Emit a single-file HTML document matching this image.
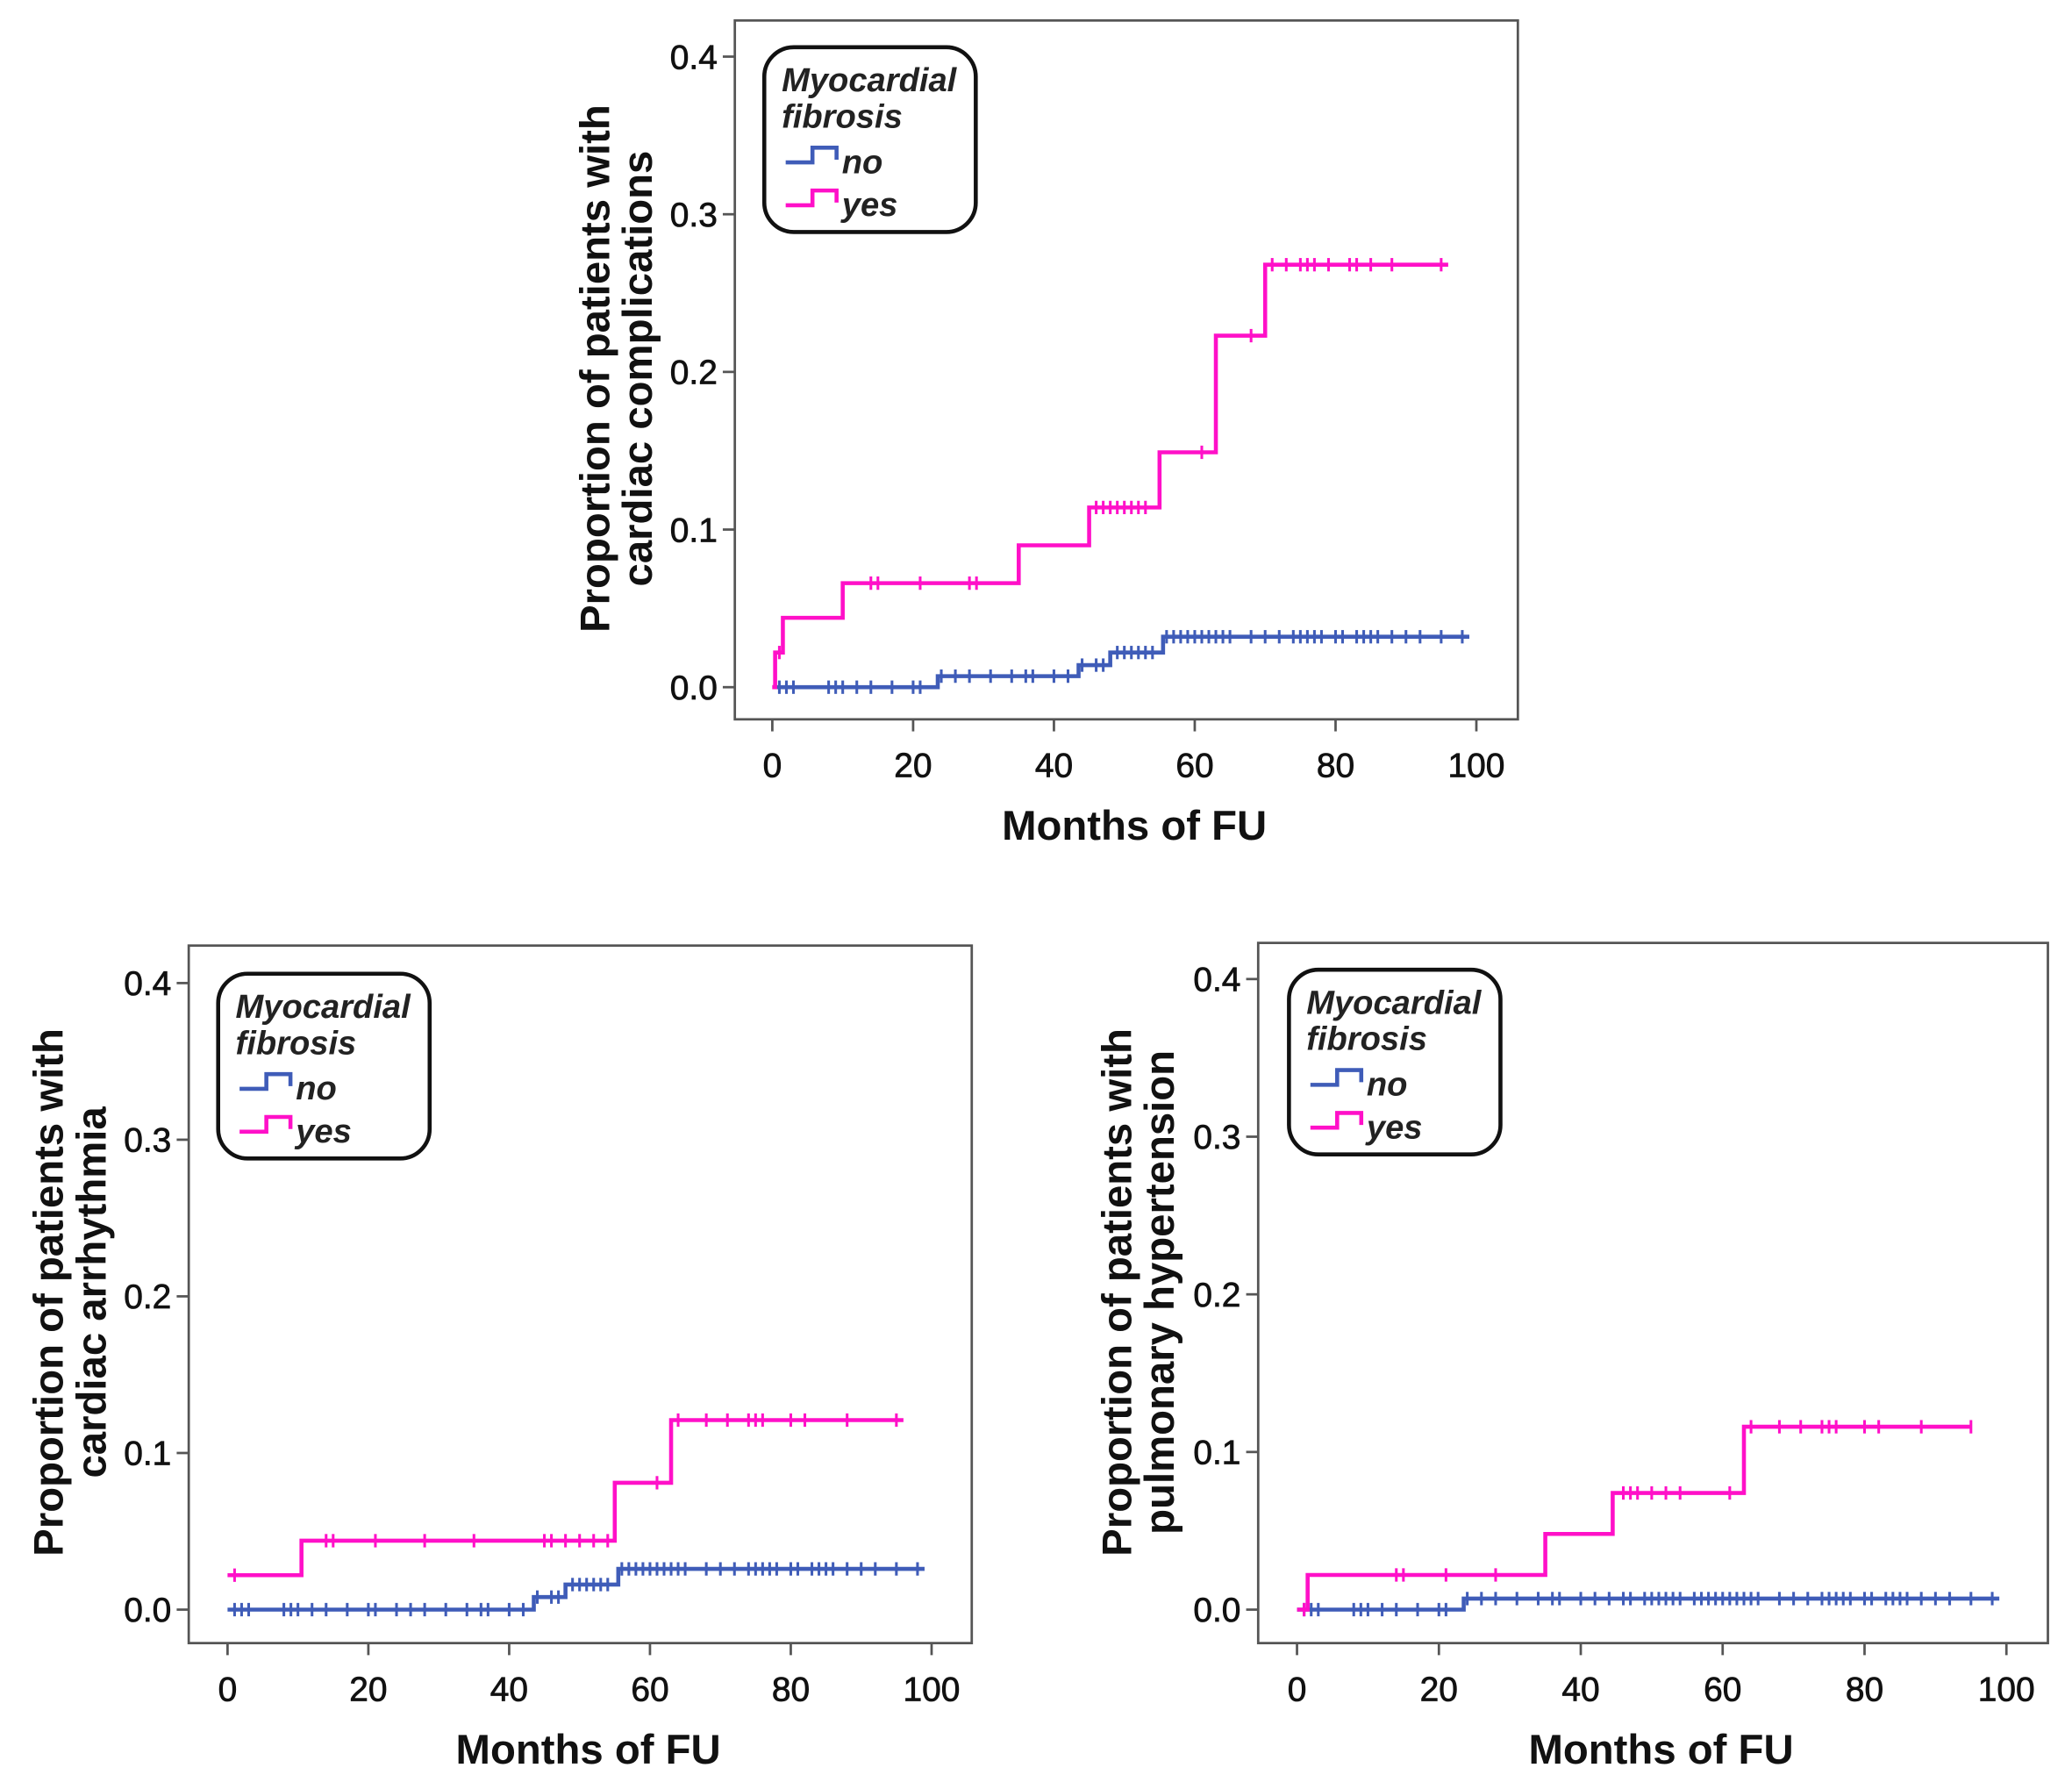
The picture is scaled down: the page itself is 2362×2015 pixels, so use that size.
<!DOCTYPE html>
<html><head><meta charset="utf-8"><style>
html,body{margin:0;padding:0;background:#fff;}
svg{display:block;font-family:"Liberation Sans",Arial,sans-serif;}
</style></head><body>
<svg id="root" width="2362" height="2015" viewBox="0 0 1548 1320" xmlns="http://www.w3.org/2000/svg"></svg>
<script>
// ---- data ----
const xTicks = [0, 20, 40, 60, 80, 100];
const yTicks = [0.0, 0.1, 0.2, 0.3, 0.4];
const yTickLabels = ["0.0", "0.1", "0.2", "0.3", "0.4"];
// Panel A: cardiac complications
const aYesT = [0, 0.4, 1.5, 10, 35, 45, 55, 63, 70];
const aYesV = [0, 0.022, 0.044, 0.066, 0.090, 0.114, 0.149, 0.223, 0.268];
const aYesEnd = 96;
const aYesCens = [1, 14, 15, 21, 28, 29, 46, 47, 48, 49, 50, 51, 52, 53, 61, 68, 71, 73, 75, 76, 77, 79, 82, 83, 85, 88, 95];
const aNoT = [0, 23.5, 43.5, 48, 55.5];
const aNoV = [0, 0.007, 0.014, 0.022, 0.032];
const aNoEnd = 99;
const aNoCens = [1,2,3,8,9,10,12,14,17,20,21,24,26,28,31,34,36,37,40,42,44,46,47,49,50,51,52,53,54,56,57,58,59,60,61,62,63,64,65,68,70,72,74,75,76,77,78,80,81,83,84,85,86,88,90,92,95,98];
// Panel B: cardiac arrhythmia
const bYesT = [0, 10.5, 55, 63];
const bYesV = [0.022, 0.044, 0.081, 0.121];
const bYesEnd = 96;
const bYesCens = [1, 14, 15, 21, 28, 35, 45, 46, 48, 50, 52, 54, 61, 64, 68, 71, 74, 75, 76, 80, 82, 88, 95];
const bNoT = [0, 43.5, 48, 55.5];
const bNoV = [0, 0.008, 0.016, 0.026];
const bNoEnd = 99;
const bNoCens = [1,2,3,8,9,10,12,14,17,20,21,24,26,28,31,34,36,37,40,42,44,46,47,49,50,51,52,53,54,56,57,58,59,60,61,62,63,64,65,68,70,72,74,75,76,77,78,80,81,83,84,85,86,88,90,92,95,98];
// Panel C: pulmonary hypertension
const cYesT = [0, 1.5, 35, 44.5, 63];
const cYesV = [0, 0.022, 0.048, 0.074, 0.116];
const cYesEnd = 95;
const cYesCens = [1, 14, 15, 21, 28, 46, 47, 48, 50, 52, 54, 61, 64, 68, 71, 74, 75, 76, 80, 82, 88, 95];
const cNoT = [0, 23.5];
const cNoV = [0, 0.007];
const cNoEnd = 99;
const cNoCens = [1,2,3,8,9,10,12,14,17,20,21,24,26,28,31,34,36,37,40,42,44,46,47,49,50,51,52,53,54,56,57,58,59,60,61,62,63,64,65,68,70,72,74,75,76,77,78,80,81,83,84,85,86,88,90,92,95,98];

const NS = "http://www.w3.org/2000/svg";
const root = document.getElementById("root");
function mk(tag, attrs, parent) {
  const e = document.createElementNS(NS, tag);
  for (const k in attrs) e.setAttribute(k, attrs[k]);
  (parent || root).appendChild(e);
  return e;
}
const BLUE = "#3f5cb8", PINK = "#ff10c8";
const TICKFS = 25.5, TITLEFS = 31, LEGFS = 25;

function stepValue(T, V, t) {
  let v = V[0];
  for (let i = 0; i < T.length; i++) if (T[i] <= t) v = V[i];
  return v;
}

function panel(cfg) {
  const g = mk("g", {});
  
  
  const sx = t => cfg.x0 + (t / 100) * (cfg.x100 - cfg.x0);
  const sy = v => cfg.y0 + (v / 0.4) * (cfg.y4 - cfg.y0);
  const fr = mk("rect", {x: cfg.fl, y: cfg.ft, width: cfg.fr - cfg.fl, height: cfg.fb - cfg.ft, fill: "#fff", stroke: "#555", "stroke-width": 1.8}, g);
  
  
  yTicks.forEach((v, i) => {
    const y = sy(v);
    const tk = mk("line", {x1: cfg.fl - 9, x2: cfg.fl, y1: y, y2: y, stroke: "#555", "stroke-width": 1.8}, g);
    
    
    const tx = mk("text", {x: cfg.fl - 13, y: y + 9, "text-anchor": "end", "font-size": TICKFS, fill: "#111", stroke: "#111", "stroke-width": 0.5}, g);
    tx.textContent = yTickLabels[i];
    
    
  });
  xTicks.forEach(t => {
    const x = sx(t);
    const tk = mk("line", {x1: x, x2: x, y1: cfg.fb, y2: cfg.fb + 9, stroke: "#555", "stroke-width": 1.8}, g);
    
    
    const tx = mk("text", {x: x, y: cfg.fb + 43, "text-anchor": "middle", "font-size": TICKFS, fill: "#111", stroke: "#111", "stroke-width": 0.5}, g);
    tx.textContent = String(t);
    
    
  });
  const xt = mk("text", {x: (cfg.fl + cfg.fr) / 2 + 6, y: cfg.fb + 90, "text-anchor": "middle", "font-size": TITLEFS, "font-weight": "bold", fill: "#111"}, g);
  xt.textContent = "Months of FU";
  
  
  const yt = mk("text", {transform: `translate(${cfg.ytx},${cfg.yty}) rotate(-90)`, "text-anchor": "middle", "font-size": TITLEFS, "font-weight": "bold", fill: "#111"}, g);
  
  
  const s1 = mk("tspan", {x: 0, dy: 0}, yt); s1.textContent = cfg.yl1;
  const s2 = mk("tspan", {x: 0, dy: 32}, yt); s2.textContent = cfg.yl2;

  function series(T, V, end, cens, color, nm) {
    let d = `M${sx(T[0])},${sy(V[0])}`;
    for (let i = 1; i < T.length; i++) d += ` H${sx(T[i])} V${sy(V[i])}`;
    d += ` H${sx(end)}`;
    const p = mk("path", {d: d, fill: "none", stroke: color, "stroke-width": 3}, g);
    
    
    cens.forEach(t => {
      if (t > end) return;
      const x = sx(t), y = sy(stepValue(T, V, t));
      const c = mk("line", {x1: x, x2: x, y1: y - 5, y2: y + 5, stroke: color, "stroke-width": 2}, g);
      
      
    });
  }
  series(cfg.noT, cfg.noV, cfg.noEnd, cfg.noC, BLUE, 'no');
  series(cfg.yesT, cfg.yesV, cfg.yesEnd, cfg.yesC, PINK, 'yes');

  const L = cfg.leg;
  const lg = mk("g", {}, g);
  
  
  mk("rect", {x: L.x, y: L.y, width: 158, height: 138, rx: 22, ry: 22, fill: "#fff", stroke: "#111", "stroke-width": 3}, lg);
  const lt1 = mk("text", {x: L.x + 13, y: L.y + 33, "font-size": LEGFS, "font-weight": "bold", "font-style": "italic", fill: "#222"}, lg);
  lt1.textContent = "Myocardial";
  
  
  const lt2 = mk("text", {x: L.x + 13, y: L.y + 60, "font-size": LEGFS, "font-weight": "bold", "font-style": "italic", fill: "#222"}, lg);
  lt2.textContent = "fibrosis";
  [["no", BLUE, 86], ["yes", PINK, 118]].forEach(([lab, col, dy]) => {
    const e = mk("g", {}, lg);
    
    
    const yb = L.y + dy, x = L.x + 16;
    mk("path", {d: `M${x},${yb} H${x + 20} V${yb - 11} H${x + 38} V${yb - 2}`, fill: "none", stroke: col, "stroke-width": 3}, e);
    const t = mk("text", {x: x + 42, y: yb + 8, "font-size": LEGFS, "font-weight": "bold", "font-style": "italic", fill: "#222"}, e);
    t.textContent = lab;
  });
}

panel({name: 'panel-cardiac-complications', fl: 549, fr: 1134, ft: 15, fb: 537, x0: 577, x100: 1103, y0: 513, y4: 42,
  ytx: 455, yty: 275, yl1: "Proportion of patients with", yl2: "cardiac complications",
  yesT: aYesT, yesV: aYesV, yesEnd: aYesEnd, yesC: aYesCens, noT: aNoT, noV: aNoV, noEnd: aNoEnd, noC: aNoCens,
  leg: {x: 571, y: 35}});
panel({name: 'panel-cardiac-arrhythmia', fl: 141, fr: 726, ft: 706, fb: 1227, x0: 170, x100: 696, y0: 1202, y4: 734,
  ytx: 47, yty: 965, yl1: "Proportion of patients with", yl2: "cardiac arrhythmia",
  yesT: bYesT, yesV: bYesV, yesEnd: bYesEnd, yesC: bYesCens, noT: bNoT, noV: bNoV, noEnd: bNoEnd, noC: bNoCens,
  leg: {x: 163, y: 727}});
panel({name: 'panel-pulmonary-hypertension', fl: 940, fr: 1530, ft: 704, fb: 1227, x0: 969, x100: 1499, y0: 1202, y4: 731,
  ytx: 845, yty: 965, yl1: "Proportion of patients with", yl2: "pulmonary hypertension",
  yesT: cYesT, yesV: cYesV, yesEnd: cYesEnd, yesC: cYesCens, noT: cNoT, noV: cNoV, noEnd: cNoEnd, noC: cNoCens,
  leg: {x: 963, y: 724}});
</script>
</body></html>
